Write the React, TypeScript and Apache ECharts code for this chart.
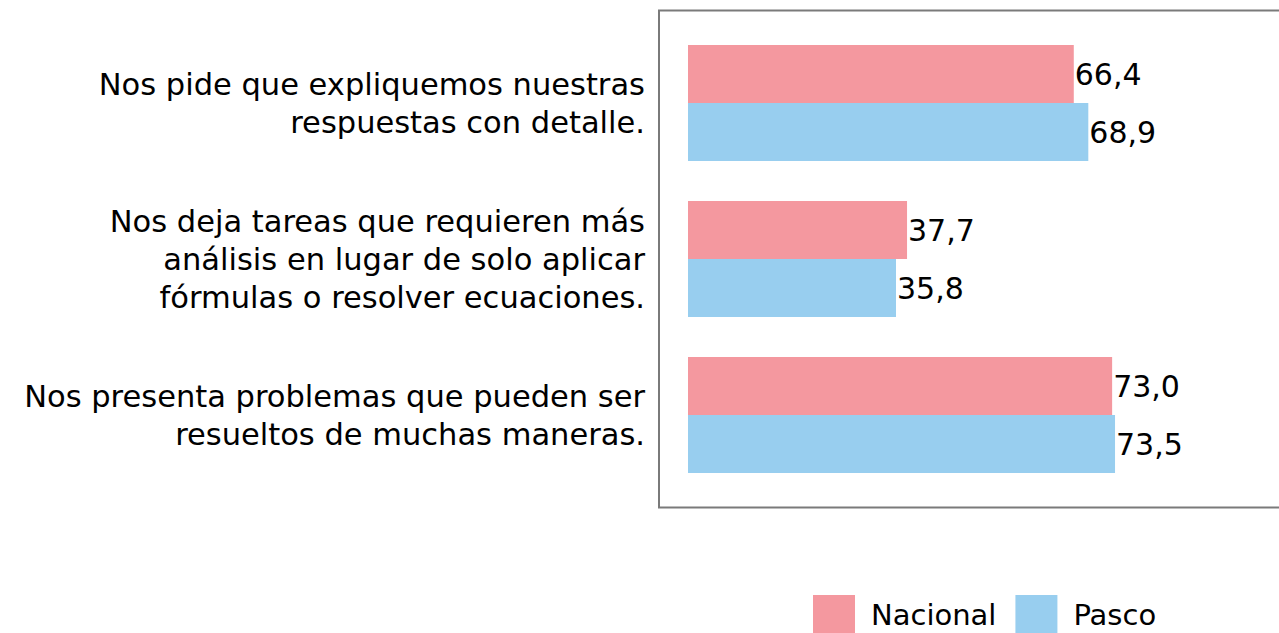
import React, { useEffect, useRef } from "react";
import * as echarts from "echarts";

const categories = [
  "Nos pide que expliquemos nuestras\nrespuestas con detalle.",
  "Nos deja tareas que requieren más\nanálisis en lugar de solo aplicar\nfórmulas o resolver ecuaciones.",
  "Nos presenta problemas que pueden ser\nresueltos de muchas maneras.",
];
const nacional = [66.4, 37.7, 73.0];
const pasco = [68.9, 35.8, 73.5];
const seriesNames = ["Nacional", "Pasco"];
const colors = ["#F4989F", "#98CEEF"];

const FONT = "'DejaVu Sans', 'Liberation Sans', Arial, sans-serif";

export default function App() {
  const ref = useRef<HTMLDivElement>(null);
  useEffect(() => {
    if (!ref.current) return;
    const chart = echarts.init(ref.current, undefined, { renderer: "svg" });
    const label = {
      show: true,
      position: "right" as const,
      distance: 1,
      fontSize: 30,
      fontFamily: FONT,
      color: "#000",
      formatter: (p: any) => Number(p.value).toFixed(1).replace(".", ","),
    };
    chart.setOption({
      animation: false,
      textStyle: { fontFamily: FONT },
      grid: { left: 688, top: 25, width: 581, height: 468 },
      xAxis: {
        type: "value",
        min: 0,
        max: 100,
        show: false,
      },
      yAxis: {
        type: "category",
        data: categories,
        inverse: true,
        axisLine: { show: false },
        axisTick: { show: false },
        splitLine: { show: false },
        axisLabel: {
          fontSize: 30.5,
          lineHeight: 38,
          color: "#000",
          fontFamily: FONT,
          align: "right",
          margin: 43,
          padding: [4, 0, 0, 0],
        },
      },
      legend: {
        data: seriesNames,
        left: 808,
        top: 590,
        icon: "rect",
        itemWidth: 42,
        itemHeight: 40,
        itemGap: 19,
        textStyle: {
          fontSize: 29,
          lineHeight: 30,
          color: "#000",
          fontFamily: FONT,
          padding: [0, 0, 0, 11],
        },
      },
      graphic: [
        {
          type: "rect",
          shape: { x: 659, y: 10.5, width: 700, height: 497 },
          style: { fill: "none", stroke: "#7a7a7a", lineWidth: 2 },
          z: -1,
          silent: true,
        },
      ],
      series: [
        {
          name: seriesNames[0],
          type: "bar",
          data: nacional,
          barWidth: 58,
          barGap: "0%",
          itemStyle: { color: colors[0] },
          label,
        },
        {
          name: seriesNames[1],
          type: "bar",
          data: pasco,
          barWidth: 58,
          barGap: "0%",
          itemStyle: { color: colors[1] },
          label,
        },
      ],
    });
    return () => chart.dispose();
  }, []);
  return (
    <div
      ref={ref}
      style={{ position: "absolute", left: 0, top: 0, width: 1279, height: 633 }}
    />
  );
}
